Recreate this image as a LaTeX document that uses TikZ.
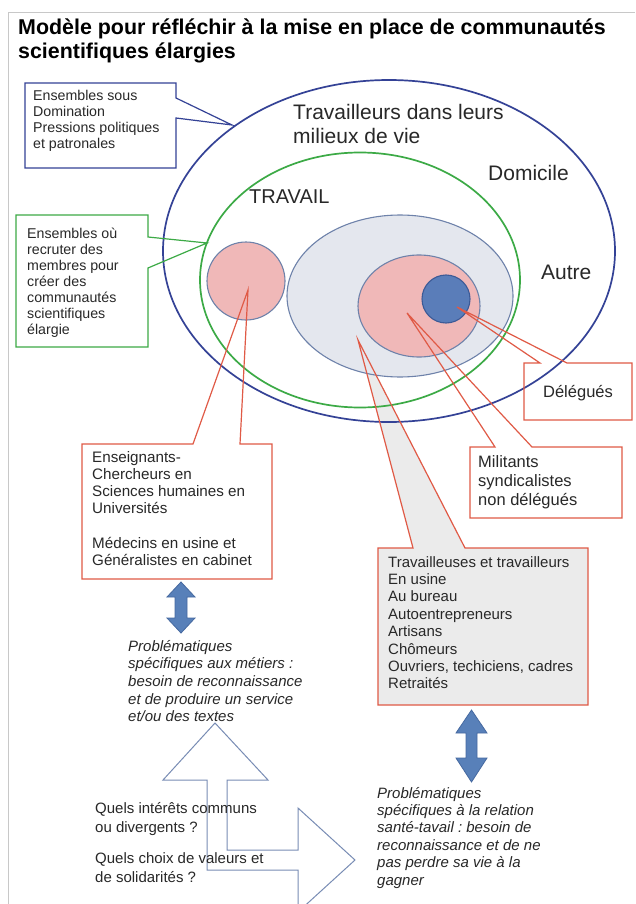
\documentclass[tikz,border=0pt]{standalone}
\usepackage{fontspec}
\setmainfont{Liberation Sans}
\usetikzlibrary{shapes.geometric}
\frenchspacing
\definecolor{navy}{RGB}{52,66,150}
\definecolor{grn}{RGB}{60,170,70}
\definecolor{rd}{RGB}{224,90,70}
\definecolor{pinkfill}{RGB}{240,184,184}
\definecolor{grayfill}{RGB}{228,231,238}
\definecolor{grayline}{RGB}{110,130,170}
\definecolor{smallblue}{RGB}{90,125,185}
\definecolor{smallblueline}{RGB}{60,90,150}
\definecolor{boxgray}{RGB}{235,235,235}
\definecolor{steel}{RGB}{88,128,185}
\definecolor{steelline}{RGB}{70,105,160}
\definecolor{outl}{RGB}{120,140,180}
\definecolor{txt}{RGB}{40,40,40}
\definecolor{framegray}{RGB}{200,200,200}
\newcommand{\lns}[1]{\begin{tabular}[t]{@{}l@{}}#1\end{tabular}}
\newcommand{\fsz}[2]{\fontsize{#1}{#2}\selectfont}
\begin{document}
\begin{tikzpicture}[x=1pt,y=-1pt,
  txtnode/.style={anchor=base west, inner sep=0pt, text=txt},
  callout/.style={line width=1.2pt, line join=miter},
  blob/.style={ellipse, inner sep=0pt, line width=1.1pt},
  bigring/.style={ellipse, inner sep=0pt, line width=1.7pt},
  dblarrow/.style={fill=steel, draw=steelline, line width=0.8pt},
]
\useasboundingbox (0,0) rectangle (635,904);
\fill[white] (0,0) rectangle (635,904);
\draw[framegray, line width=0.8pt] (8,904) -- (8,12) -- (635,12);

% title
\node[txtnode, font=\bfseries\fsz{21.4}{24}, text=black] (title) at (18,35)
  {\lns{Modèle pour réfléchir à la mise en place de communautés\\scientifiques élargies}};

% gray callout fill (drawn under the rings)
\path[fill=boxgray] (378,548) -- (413,548) -- (358,340) -- (465,548) -- (588,548) -- (588,705) -- (378,705) -- cycle;

% rings and sets
\node[bigring, draw=navy, minimum width=452pt, minimum height=342pt] (outer) at (389,251) {};
\node[bigring, draw=grn, minimum width=320pt, minimum height=255pt] (travail) at (360,280) {};
\node[blob, draw=grayline, fill=pinkfill, minimum width=78pt, minimum height=78pt] (leftpink) at (246,281) {};
\node[blob, draw=grayline, fill=grayfill, minimum width=226pt, minimum height=162pt] (grayset) at (400,296) {};
\node[blob, draw=grayline, fill=pinkfill, minimum width=122pt, minimum height=102pt] (pinkset) at (419,306) {};
\node[blob, draw=smallblueline, fill=smallblue, minimum width=48pt, minimum height=48pt] (bluedot) at (446,299) {};

% tips of callouts
\coordinate (tipB) at (232,125);
\coordinate (tipG) at (207,243);
\coordinate (tipE) at (248,290);
\coordinate (tipD) at (457,307);
\coordinate (tipM) at (407,313);
\coordinate (tipT) at (358,340);

% callout outlines
\draw[callout, draw=navy] (25,83) -- (176,83) -- (176,98) -- (tipB) -- (176,118) -- (176,168) -- (25,168) -- cycle;
\draw[callout, draw=grn] (16,215) -- (148,215) -- (148,237) -- (tipG) -- (148,268) -- (148,347) -- (16,347) -- cycle;
\draw[callout, draw=rd] (82,444) -- (193,444) -- (tipE) -- (240,444) -- (272,444) -- (272,579) -- (82,579) -- cycle;
\draw[callout, draw=rd] (524,363) -- (540,363) -- (tipD) -- (567,363) -- (632,363) -- (632,420) -- (524,420) -- cycle;
\draw[callout, draw=rd] (470,447) -- (495,447) -- (tipM) -- (532,447) -- (622,447) -- (622,518) -- (470,518) -- cycle;
\draw[callout, draw=rd] (378,548) -- (413,548) -- (tipT) -- (465,548) -- (588,548) -- (588,705) -- (378,705) -- cycle;

% ring labels
\node[txtnode, font=\fsz{21}{24}] (lblmilieux) at (293,120) {\lns{Travailleurs dans leurs\\milieux de vie}};
\node[txtnode, font=\fsz{21}{24}] (lbldomicile) at (488,180) {Domicile};
\node[txtnode, font=\fsz{20}{24}] (lbltravail) at (249,204) {TRAVAIL};
\node[txtnode, font=\fsz{21}{24}] (lblautre) at (541,279) {Autre};

% callout texts
\node[txtnode, font=\fsz{14.2}{16}] (txtB) at (33,101) {\lns{Ensembles sous\\Domination\\Pressions politiques\\et patronales}};
\node[txtnode, font=\fsz{14.2}{16}] (txtG) at (27,238) {\lns{Ensembles où\\recruter des\\membres pour\\créer des\\communautés\\scientifiques\\élargie}};
\node[txtnode, font=\fsz{15.2}{17.3}] (txtE) at (92,462) {\lns{Enseignants-\\Chercheurs en\\Sciences humaines en\\Universités\\ \\Médecins en usine et\\Généralistes en cabinet}};
\node[anchor=base, inner sep=0pt, text=txt, font=\fsz{16.5}{19}] (txtD) at (578,397.5) {Délégués};
\node[txtnode, font=\fsz{16.5}{19}] (txtM) at (478,467.5) {\lns{Militants\\syndicalistes\\non délégués}};
\node[txtnode, font=\fsz{15}{17.4}] (txtT) at (388,567) {\lns{Travailleuses et travailleurs\\En usine\\Au bureau\\Autoentrepreneurs\\Artisans\\Chômeurs\\Ouvriers, techiciens, cadres\\Retraités}};

% blue double arrows
\draw[dblarrow] (181,582) -- (195,597) -- (187,597) -- (187,618) -- (195,618) -- (181,633) -- (167,618) -- (175,618) -- (175,597) -- (167,597) -- cycle;
\draw[dblarrow] (471.5,710) -- (487,733) -- (477,733) -- (477,758) -- (487,758) -- (471.5,782) -- (456,758) -- (466,758) -- (466,733) -- (456,733) -- cycle;

% outline bent arrow
\draw[outl, line width=1pt, fill=white] (215,723) -- (268,780) -- (227,780) -- (227,850) -- (298,850) -- (298,808) -- (355,860) -- (298,912) -- (298,870) -- (207,870) -- (207,780) -- (163,780) -- cycle;

% problem texts
\node[txtnode, font=\itshape\fsz{15}{17.7}] (probL) at (128,651) {\lns{Problématiques\\spécifiques aux métiers :\\besoin de reconnaissance\\et de produire un service\\et/ou des textes}};
\node[txtnode, font=\itshape\fsz{15}{17.4}] (probR) at (377,798) {\lns{Problématiques\\spécifiques à la relation\\santé-tavail : besoin de\\reconnaissance et de ne\\pas perdre sa vie à la\\gagner}};
\node[txtnode, font=\fsz{15}{19}] (q1) at (95,813) {\lns{Quels intérêts communs\\ou divergents ?}};
\node[txtnode, font=\fsz{15}{19}] (q2) at (95,863) {\lns{Quels choix de valeurs et\\de solidarités ?}};
\end{tikzpicture}
\end{document}
